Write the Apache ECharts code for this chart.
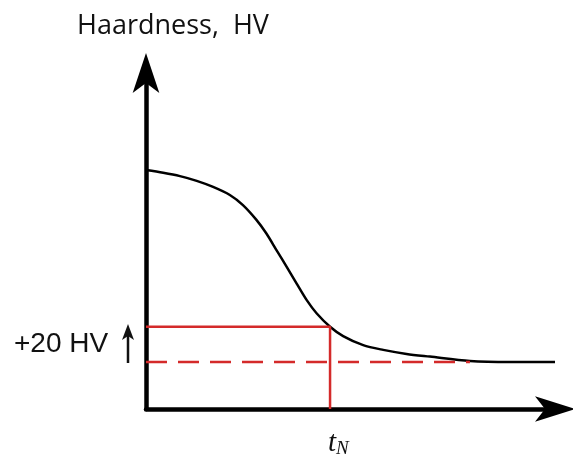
<!DOCTYPE html>
<html>
<head>
<meta charset="utf-8">
<script src="https://cdn.jsdelivr.net/npm/echarts@6/dist/echarts.min.js"></script>
<style>
  html, body { margin: 0; padding: 0; background: #fff; }
  #chart { width: 573px; height: 457px; }
</style>
</head>
<body>
<div id="chart"></div>
<script>
// hardness curve (x: time 0..100, y: hardness 0..100)
const curveX = [0, 4.2, 8.3, 12.4, 16.4, 20.5, 23.7, 27.0, 29.4, 31.9, 34.4, 36.8, 39.3, 41.7,
  45.0, 48.2, 53.1, 58.0, 63.7, 69.4, 79.2, 89.0, 100];
const curveY = [71.1, 70.3, 69.3, 67.9, 66.1, 63.7, 60.7, 56.3, 52.3, 47.3, 42.3, 37.4, 32.4, 28.5,
  24.5, 21.7, 19.0, 17.6, 16.4, 15.6, 14.3, 14.0, 14.0];

// reference levels
const tN = 45.0;
const levelPlus20 = 24.5;
const levelBase = 14.0;
const baseEnd = 79.2;

const red = '#d42a2a';

function pairs(xs, ys) {
  return xs.map((x, i) => [x, ys[i]]);
}

const chart = echarts.init(document.getElementById('chart'));

const option = {
  backgroundColor: '#fff',
  animation: false,
  title: {
    text: 'Haardness,  HV',
    left: 72,
    top: 8,
    textStyle: {
      fontFamily: 'Open Sans',
      fontWeight: 'normal',
      fontSize: 27,
      color: '#111'
    }
  },
  grid: {
    left: 146,
    right: 18,
    top: 73,
    bottom: 48
  },
  xAxis: {
    type: 'value',
    min: 0,
    max: 100,
    axisLine: {
      onZero: false,
      symbol: ['none', 'arrow'],
      symbolSize: [19, 40],
      symbolOffset: [0, 20],
      lineStyle: { color: '#000', width: 4.5 }
    },
    axisTick: { show: false },
    axisLabel: { show: false },
    splitLine: { show: false }
  },
  yAxis: {
    type: 'value',
    min: 0,
    max: 100,
    axisLine: {
      show: true,
      onZero: false,
      symbol: ['none', 'arrow'],
      symbolSize: [20, 40],
      symbolOffset: [0, 20],
      lineStyle: { color: '#000', width: 4.5 }
    },
    axisTick: { show: false },
    axisLabel: { show: false },
    splitLine: { show: false }
  },
  series: [
    {
      name: 'hardness',
      type: 'line',
      data: pairs(curveX, curveY),
      smooth: 0.3,
      symbol: 'none',
      lineStyle: { color: '#000', width: 2.5 },
      z: 2
    },
    {
      name: 'plus20',
      type: 'line',
      data: [[0, levelPlus20], [tN, levelPlus20], [tN, 0]],
      symbol: 'none',
      lineStyle: { color: red, width: 2.5 },
      z: 3
    },
    {
      name: 'base',
      type: 'line',
      data: [[0, levelBase], [baseEnd, levelBase]],
      symbol: 'none',
      lineStyle: { color: red, width: 2.5, type: [21, 11] },
      z: 3
    }
  ],
  graphic: [
    {
      type: 'text',
      left: 14,
      top: 330,
      style: {
        text: '+20 HV',
        fontFamily: 'Liberation Sans',
        fontSize: 28,
        fill: '#111'
      }
    },
    {
      type: 'polyline',
      shape: { points: [[128, 363], [128, 330]] },
      style: { stroke: '#111', lineWidth: 2.5 }
    },
    {
      type: 'polygon',
      shape: { points: [[128, 324], [122, 340], [128, 336], [134, 340]] },
      style: { fill: '#111' }
    },
    {
      type: 'text',
      left: 328,
      top: 429,
      style: {
        rich: {
          t: { fontFamily: 'Liberation Serif', fontStyle: 'italic', fontSize: 29, fill: '#111' },
          n: { fontFamily: 'Liberation Serif', fontStyle: 'italic', fontSize: 19, fill: '#111', padding: [11, 0, 0, 0] }
        },
        text: '{t|t}{n|N}'
      }
    }
  ]
};

chart.setOption(option);
</script>
</body>
</html>
